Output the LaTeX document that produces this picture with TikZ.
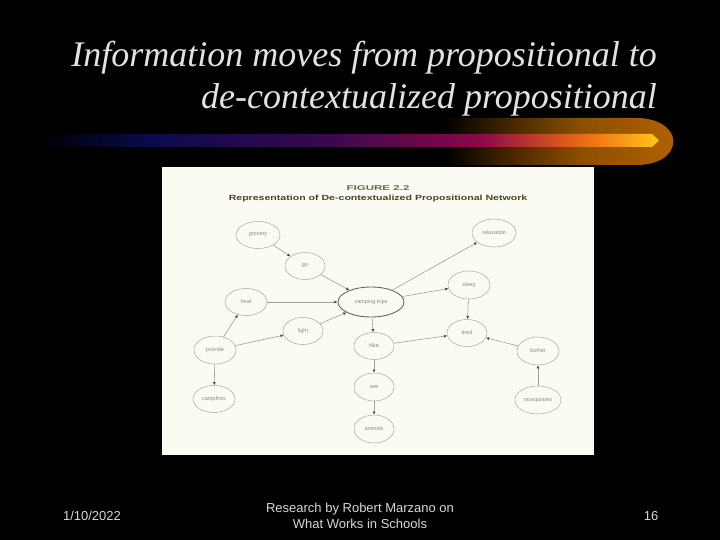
\documentclass[tikz,border=0pt]{standalone}
\usepackage{fontspec}
\usetikzlibrary{shapes.geometric,arrows.meta}
\newfontfamily\titlefont{Liberation Serif}
\newfontfamily\arialfont{Liberation Sans}
\definecolor{titlegray}{HTML}{E2E2E2}
\definecolor{footgray}{HTML}{D8D8D8}
\definecolor{panelbg}{HTML}{FCFBF3}
\definecolor{ellgray}{HTML}{A8A8A0}
\definecolor{linegray}{HTML}{A0A098}
\definecolor{tipc}{HTML}{4A4A22}
\definecolor{txtgray}{HTML}{8A8A88}
\definecolor{olivetxt}{HTML}{45451E}
\definecolor{navyc}{HTML}{0A0A50}
\definecolor{purplec}{HTML}{3A0850}
\definecolor{crimc}{HTML}{8A0848}
\definecolor{orangec}{HTML}{F07010}
\definecolor{yellowc}{HTML}{FFC018}
\definecolor{glow1}{HTML}{4A2800}
\definecolor{glow2}{HTML}{8C5000}
\definecolor{glow3}{HTML}{B06000}
\pgfdeclarehorizontalshading{barshade}{100bp}{color(0bp)=(black); color(25bp)=(black); color(33.9bp)=(navyc); color(48.4bp)=(purplec); color(60.5bp)=(crimc); color(69.4bp)=(orangec); color(74.6bp)=(yellowc); color(100bp)=(yellowc)}
\pgfdeclarehorizontalshading{glowshade}{100bp}{color(0bp)=(black); color(25bp)=(black); color(40bp)=(glow1); color(55bp)=(glow2); color(75bp)=(glow3); color(100bp)=(glow3)}
\tikzset{
  ell/.style={ellipse, draw=ellgray, line width=0.5pt, fill=panelbg, inner sep=0pt,
    minimum width=42pt, minimum height=27pt, font=\arialfont\fontsize{5.5}{6}\selectfont, text=txtgray},
  bigell/.style={ell, draw=gray!80!black, line width=0.9pt, minimum width=66pt, minimum height=30pt},
  edge/.style={draw=linegray, line width=0.6pt, -{Latex[length=3.2pt,width=3pt,color=tipc]}},
  titletxt/.style={font=\titlefont\itshape\fontsize{36}{40}\selectfont, text=titlegray, inner sep=0pt},
  foot/.style={font=\arialfont\fontsize{13}{16}\selectfont, text=footgray, inner sep=0pt, align=center}
}
\begin{document}
\begin{tikzpicture}[x=1pt,y=-1pt]
\fill[black] (0,0) rectangle (720,540);
\useasboundingbox (0,0) rectangle (720,540);
% glow
\shade[shading=glowshade] (445,118) -- (640,118) .. controls (668,120) and (674,136) .. (673,141) .. controls (674,148) and (668,163) .. (640,165) -- (445,165) -- cycle;
% bar
\shade[shading=barshade] (40,134) -- (652,134) -- (659,140.5) -- (652,147) -- (40,147) -- cycle;
% title
\node[titletxt, anchor=base east] (t1) at (657,67) {Information moves from propositional to};
\node[titletxt, anchor=base east] (t2) at (657,109) {de-contextualized propositional};
% panel
\fill[panelbg] (162,167) rectangle (594,455);
\node[font=\arialfont\bfseries\fontsize{7}{8}\selectfont, text=olivetxt!80, inner sep=0pt, xscale=1.65] (fig) at (378,188) {FIGURE 2.2};
\node[font=\arialfont\bfseries\fontsize{7.5}{8}\selectfont, text=olivetxt, inner sep=0pt, xscale=1.41] (sub) at (378,199) {Representation of De-contextualized Propositional Network};
% nodes
\node[ell, minimum width=44pt] (grocery) at (258,235) {grocery};
\node[ell, minimum width=40pt] (go) at (305,266) {go};
\node[ell] (heat) at (246,302) {heat};
\node[bigell] (camp) at (371,302) {camping trips};
\node[ell, minimum width=40pt] (light) at (303,331) {light};
\node[ell, minimum height=28pt] (provide) at (215,350) {provide};
\node[ell] (campfires) at (214,399) {campfires};
\node[ell, minimum width=44pt, minimum height=28pt] (relax) at (494,233) {relaxation};
\node[ell, minimum height=28pt] (sleep) at (469,285) {sleep};
\node[ell, minimum width=40pt] (tired) at (467,333) {tired};
\node[ell, minimum width=40pt] (hike) at (374,346) {hike};
\node[ell, minimum width=40pt, minimum height=28pt] (see) at (374,387) {see};
\node[ell, minimum width=40pt, minimum height=28pt] (animals) at (374,429) {animals};
\node[ell, minimum height=28pt] (bother) at (538,351) {bother};
\node[ell, minimum width=46pt, minimum height=28pt] (mosq) at (538,400) {mosquitoes};
% edges
\draw[edge] (grocery) -- (go);
\draw[edge] (go) -- (camp);
\draw[edge] (heat) -- (camp);
\draw[edge] (light) -- (camp);
\draw[edge] (provide) -- (heat);
\draw[edge] (provide) -- (light);
\draw[edge] (provide) -- (campfires);
\draw[edge] (camp) -- (relax);
\draw[edge] (camp) -- (sleep);
\draw[edge] (sleep) -- (tired);
\draw[edge] (camp) -- (hike);
\draw[edge] (hike) -- (tired);
\draw[edge] (hike) -- (see);
\draw[edge] (see) -- (animals);
\draw[edge] (bother) -- (tired);
\draw[edge] (mosq) -- (bother);
% footer
\node[foot] (date) at (92,516) {1/10/2022};
\node[foot] (credit) at (360,516) {Research by Robert Marzano on\\What Works in Schools};
\node[foot] (page) at (651,516) {16};
\end{tikzpicture}
\end{document}
